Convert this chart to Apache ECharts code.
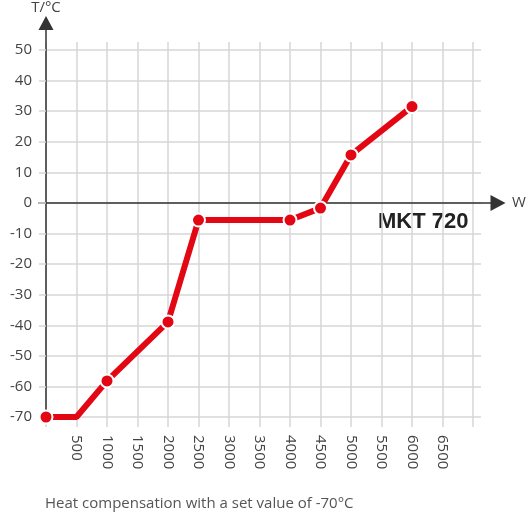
<!DOCTYPE html>
<html>
<head>
<meta charset="utf-8">
<script src="https://cdn.jsdelivr.net/npm/echarts@6/dist/echarts.min.js"></script>
<style>
  html, body { margin: 0; padding: 0; background: #fff; }
  #chart { width: 532px; height: 515px; }
</style>
</head>
<body>
<div id="chart"></div>
<script>
// heat compensation curve, MKT 720
let powerW = [0, 500, 1000, 2000, 2500, 4000, 4500, 5000, 6000];
let tempC = [-70, -70, -58.2, -38.9, -5.6, -5.6, -1.7, 15.7, 31.5];
let hasMarker = [true, false, true, true, true, true, true, true, true];

let xMin = 0, xMax = 7000, xStep = 500;
let yMin = -70, yMax = 50, yStep = 10;

let modelName = 'MKT 720';
let xName = 'W';
let yName = 'T/°C';
let caption = 'Heat compensation with a set value of -70°C';

function initChart() {
    let font = 'Open Sans';
    let red = '#e30613';
    let gridColor = '#d6d6d6';
    let axisColor = '#333';
    let labelColor = '#444';

    let points = powerW.map(function (w, i) {
        let item = {value: [w, tempC[i]]};
        if (!hasMarker[i]) {
            item.symbol = 'none';
        }
        return item;
    });

    let chart = echarts.init(document.getElementById('chart'));
    let option = {
        animation: false,
        title: {
            text: caption,
            left: 45,
            top: 496,
            padding: 0,
            textStyle: {fontFamily: font, fontSize: 15, fontWeight: 'normal', color: '#555'}
        },
        graphic: [
            {
                type: 'text',
                left: 378,
                top: 211,
                style: {text: modelName, font: 'bold 22px "Liberation Sans", Arial', fill: '#222'}
            }
        ],
        grid: [
            // data
            {left: 46, top: 50, width: 427, height: 367},
            // horizontal lines
            {left: 46, top: 50, width: 435, height: 367},
            // vertical lines
            {left: 46, top: 42, width: 427, height: 385},
            // x axis line with arrow
            {left: 39, top: 193, width: 459, height: 10},
            // y axis line with arrow
            {left: 46, top: 20, width: 10, height: 397}
        ],
        xAxis: [
            {
                gridIndex: 0, type: 'value', min: xMin, max: xMax, interval: xStep,
                axisLine: {show: false},
                axisTick: {show: false},
                splitLine: {show: false},
                axisLabel: {
                    rotate: -90, margin: 18, showMinLabel: false, showMaxLabel: false,
                    fontFamily: font, fontSize: 15, color: labelColor,
                    formatter: function (v) { return String(v); }
                }
            },
            {gridIndex: 1, type: 'value', min: 0, max: 1, show: false},
            {
                gridIndex: 2, type: 'value', min: xMin, max: xMax, interval: xStep,
                axisLine: {show: false},
                axisTick: {show: false},
                axisLabel: {show: false},
                splitLine: {show: true, lineStyle: {color: gridColor, width: 1.5}}
            },
            {
                gridIndex: 3, type: 'value', min: 0, max: 1,
                axisLine: {
                    show: true, onZero: false, symbol: ['none', 'triangle'], symbolSize: [16, 15],
                    lineStyle: {color: axisColor, width: 1.5}
                },
                axisTick: {show: false},
                axisLabel: {show: false},
                splitLine: {show: false},
                name: xName, nameLocation: 'end', nameGap: 14,
                nameTextStyle: {fontFamily: font, fontSize: 15, color: labelColor, verticalAlign: 'middle'}
            },
            {gridIndex: 4, type: 'value', min: 0, max: 1, show: false}
        ],
        yAxis: [
            {gridIndex: 0, type: 'value', min: yMin, max: yMax, interval: yStep, show: false},
            {
                gridIndex: 1, type: 'value', min: yMin, max: yMax, interval: yStep,
                axisLine: {show: false},
                axisTick: {show: true, length: 7, lineStyle: {color: gridColor, width: 1.5}},
                axisLabel: {margin: 14, fontFamily: font, fontSize: 15, color: labelColor},
                splitLine: {show: true, lineStyle: {color: gridColor, width: 1.5}}
            },
            {gridIndex: 2, type: 'value', min: 0, max: 1, show: false},
            {gridIndex: 3, type: 'value', min: 0, max: 1, show: false},
            {
                gridIndex: 4, type: 'value', min: 0, max: 1,
                axisLine: {
                    show: true, onZero: false, symbol: ['none', 'triangle'], symbolSize: [15, 14],
                    lineStyle: {color: axisColor, width: 1.5}
                },
                axisTick: {show: false},
                axisLabel: {show: false},
                splitLine: {show: false},
                name: yName, nameLocation: 'end', nameGap: 8,
                nameTextStyle: {fontFamily: font, fontSize: 15, color: labelColor, align: 'center'}
            }
        ],
        series: [
            {
                name: modelName,
                type: 'line',
                xAxisIndex: 0,
                yAxisIndex: 0,
                z: 10,
                data: points,
                symbol: 'circle',
                symbolSize: 13,
                lineStyle: {color: red, width: 6},
                itemStyle: {color: red, borderColor: '#fff', borderWidth: 2}
            }
        ]
    };
    chart.setOption(option);
}

initChart();
</script>
</body>
</html>
